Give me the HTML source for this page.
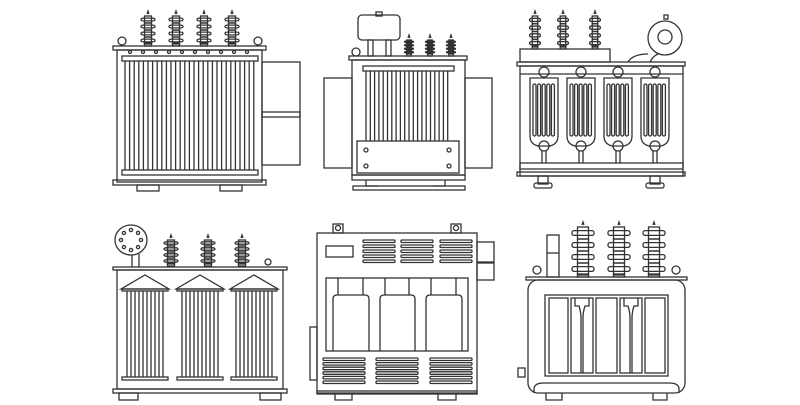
<!DOCTYPE html>
<html><head><meta charset="utf-8"><style>html,body{margin:0;padding:0;background:#fff}svg{display:block}</style></head>
<body>
<svg id="s" width="800" height="405" viewBox="0 0 800 405" xmlns="http://www.w3.org/2000/svg" fill="none" stroke="#333" stroke-width="1.3">
<g id="g"></g>
</svg>
<script>
var o='';
function R(x,y,w,h,e){o+='<rect x="'+x+'" y="'+y+'" width="'+w+'" height="'+h+'" '+(e||'')+'/>';}
function L(a,b,c,d){o+='<line x1="'+a+'" y1="'+b+'" x2="'+c+'" y2="'+d+'"/>';}
function C(x,y,r){o+='<circle cx="'+x+'" cy="'+y+'" r="'+r+'"/>';}
function P(d){o+='<path d="'+d+'"/>';}
function bush(x,top,bot,w){
  P('M'+(x-1)+' '+top+' l1 -3 l1 3');
  var n=4,hh=(bot-top-4)/n;
  for(var i=0;i<n;i++){var y=top+2+i*hh; R(x-w/2,y+hh*0.3,w,hh*0.4,'rx="2"'); R(x-w/4,y,w/2,hh);}
  R(x-w/4,bot-3,w/2,3);
}
// ---- T1 ----
R(113,46,153,4);R(117,50,145,132);R(122,56,136,5);R(122,170,136,5);
for(var x=125;x<256;x+=4.6)L(x,61,x,170);
R(113,180,153,5);R(137,185,22,6);R(220,185,22,6);
R(262,62,38,103);R(262,112,38,5);
C(122,41,4);C(258,41,4);
[148,176,204,232].forEach(function(x){bush(x,14,46,14)});
for(var x=130;x<255;x+=13)C(x,52,1.5);
// ---- T2 ----
R(358,15,42,25,'rx="4"');R(376,12,6,4);R(368,40,5,16);R(386,40,5,16);
C(356,52,4);
[409,430,451].forEach(function(x){bush(x,38,56,9)});
R(349,56,118,4);R(352,60,113,115);
R(324,78,28,90);R(465,78,27,90);
R(363,66,91,5);
for(var x=366;x<452;x+=4.3)L(x,71,x,141);
R(357,141,102,32);C(366,150,2);C(366,166,2);C(449,150,2);C(449,166,2);
R(352,175,113,5);P('M366 180 v6 h12 M445 180 v6 h-12');R(353,186,112,4);
// ---- T3 ----
R(520,49,90,13);
[535,563,595].forEach(function(x){bush(x,14,49,11)});
C(665,38,17);C(665,37,7);P('M628 62 q5 -8 20 -8 M650 62 q3 -6 8 -8');R(664,15,4,4);
R(517,62,168,4);R(520,66,163,110);L(520,74,683,74);R(520,163,163,6);R(517,172,168,4);
[544,581,618,655].forEach(function(x){
 C(x,72,5);P('M'+(x-14)+' 78 h28 v58 q0 8 -8 10 h-12 q-8 -2 -8 -10 z');
 for(var i=0;i<5;i++)R(x-11+i*4.6,84,3,52,'rx="1.5"');
 C(x,146,5);L(x-2,151,x-2,163);L(x+2,151,x+2,163);
});
R(538,176,10,8);R(534,183,18,5,'rx="2"');R(650,176,10,8);R(646,183,18,5,'rx="2"');
// ---- T4 ----
o+='<ellipse cx="131" cy="240" rx="16" ry="15"/>';for(var a=0;a<8;a++){C(131+10*Math.cos(a*0.785),240+10*Math.sin(a*0.785),1.6);}
P('M132 255 v12 M139 254 v13');
[171,208,242].forEach(function(x){bush(x,238,266,14)});
C(268,262,3);
R(113,267,174,3);R(117,270,166,119);
[145,200,254].forEach(function(x){
 P('M'+(x-24)+' 289 l24 -14 l24 14 z');R(x-23,289,46,2);
 for(var i=0;i<10;i++)L(x-18+i*4,291,x-18+i*4,377);
 R(x-23,377,46,3);
});
R(113,389,174,4);R(119,393,19,7);R(260,393,21,7);
// ---- T5 ----
R(333,224,10,9);C(338,228,2.5);R(451,224,10,9);C(456,228,2.5);
R(317,233,160,160);R(326,246,27,11);
[379,417,456].forEach(function(x){for(var i=0;i<5;i++)R(x-16,240+i*5,32,2.5,'rx="1"')});
R(477,242,17,20);R(477,263,17,17);R(310,327,7,53);
R(326,278,142,73);
[[333,369],[380,415],[426,462]].forEach(function(p){L(p[0]+5,278,p[0]+5,295);L(p[1]-6,278,p[1]-6,295);P('M'+p[0]+' 351 v-52 q0 -4 4 -4 h'+(p[1]-p[0]-8)+' q4 0 4 4 v52');});
[344,397,451].forEach(function(x){for(var i=0;i<6;i++)R(x-21,358+i*4.6,42,2.5,'rx="1"')});
R(317,391,160,3);P('M335 394 v6 h17 v-6 M438 394 v6 h18 v-6');
// ---- T6 ----
R(547,235,12,42);L(547,253,559,253);
[583,619,654].forEach(function(x){bush(x,225,277,22)});
C(537,270,4);C(676,270,4);
R(526,277,161,3);R(528,280,157,113,'rx="10"');
R(545,295,123,81);
[[549,568],[571,593],[596,617],[620,642],[645,665]].forEach(function(p){R(p[0],298,p[1]-p[0],75)});
P('M575 298 v8 h4 q2 6 2 12 v55 M589 298 v8 h-4 q-2 6 -2 12 v55');
P('M624 298 v8 h4 q2 6 2 12 v55 M638 298 v8 h-4 q-2 6 -2 12 v55');
P('M534 393 v-4 q0 -6 10 -6 h125 q10 0 10 6 v4');R(518,368,7,9);
P('M546 393 v7 h16 v-7 M653 393 v7 h14 v-7');
document.getElementById('g').innerHTML=o;
</script>
</body></html>
